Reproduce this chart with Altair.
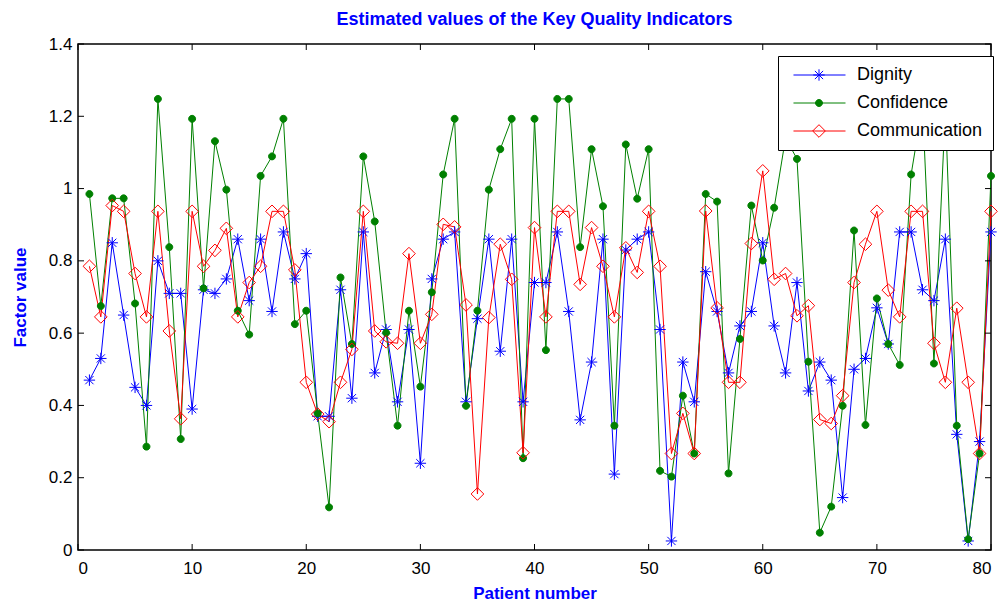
import altair as alt
import pandas as pd

patients = list(range(1, 81))

dignity = [
    0.47, 0.53, 0.85, 0.65, 0.45, 0.40, 0.80, 0.71, 0.71, 0.39,
    0.72, 0.71, 0.75, 0.86, 0.69, 0.86, 0.66, 0.88, 0.75, 0.82,
    0.37, 0.37, 0.72, 0.42, 0.88, 0.49, 0.61, 0.41, 0.61, 0.24,
    0.75, 0.86, 0.88, 0.41, 0.64, 0.86, 0.55, 0.86, 0.41, 0.74,
    0.74, 0.88, 0.66, 0.36, 0.52, 0.86, 0.21, 0.83, 0.86, 0.88,
    0.61, 0.025, 0.52, 0.41, 0.77, 0.66, 0.49, 0.62, 0.66, 0.85,
    0.62, 0.49, 0.74, 0.44, 0.52, 0.47, 0.145, 0.50, 0.53, 0.67,
    0.57, 0.88, 0.88, 0.72, 0.69, 0.86, 0.32, 0.025, 0.30, 0.88,
]

confidence = [
    0.985, 0.675, 0.973, 0.973, 0.682, 0.286, 1.248, 0.838, 0.307, 1.193,
    0.724, 1.131, 0.997, 0.662, 0.596, 1.035, 1.089, 1.193, 0.625, 0.662,
    0.378, 0.118, 0.754, 0.570, 1.089, 0.909, 0.601, 0.344, 0.662, 0.452,
    0.713, 1.039, 1.193, 0.399, 0.662, 0.997, 1.109, 1.193, 0.254, 1.193,
    0.553, 1.248, 1.248, 0.838, 1.109, 0.951, 0.344, 1.122, 0.972, 1.109,
    0.219, 0.203, 0.427, 0.267, 0.985, 0.964, 0.212, 0.584, 0.953, 0.801,
    0.947, 1.14, 1.082, 0.521, 0.048, 0.120, 0.399, 0.884, 0.346, 0.696,
    0.570, 0.512, 1.039, 1.23, 0.516, 1.22, 0.344, 0.030, 0.267, 1.035,
]

communication = [
    0.785, 0.645, 0.953, 0.937, 0.765, 0.645, 0.937, 0.606, 0.363, 0.937,
    0.785, 0.829, 0.890, 0.645, 0.740, 0.785, 0.937, 0.937, 0.775, 0.464,
    0.376, 0.355, 0.464, 0.555, 0.937, 0.606, 0.576, 0.572, 0.820, 0.572,
    0.652, 0.901, 0.894, 0.678, 0.155, 0.643, 0.846, 0.749, 0.269, 0.892,
    0.645, 0.937, 0.937, 0.735, 0.892, 0.785, 0.645, 0.836, 0.768, 0.937,
    0.785, 0.267, 0.378, 0.267, 0.938, 0.670, 0.464, 0.464, 0.848, 1.049,
    0.749, 0.765, 0.648, 0.676, 0.361, 0.350, 0.427, 0.740, 0.846, 0.937,
    0.719, 0.645, 0.937, 0.937, 0.572, 0.464, 0.669, 0.464, 0.267, 0.937,
]

series_names = ["Dignity", "Confidence", "Communication"]
marker_names = [n + " marker" for n in series_names]
series_colors = ["#0000ff", "#008000", "#ff0000"]
series_fills = ["transparent", "#008000", "transparent"]
# marker glyphs (unit square paths, drawn with one common symbol size)
STAR = "M-0.9,0L0.9,0M0,-0.9L0,0.9M-0.65,-0.65L0.65,0.65M-0.65,0.65L0.65,-0.65"
DOT = "M-0.55,0A0.55,0.55 0 1,0 0.55,0A0.55,0.55 0 1,0 -0.55,0Z"
DIAMOND = "M0,-1L1,0L0,1L-1,0Z"
series_shapes = [STAR, DOT, DIAMOND]
LEGEND_LINE = "M-0.64,0L8.82,0"

x_ticks = [0, 10, 20, 30, 40, 50, 60, 70, 80]
y_ticks = [0, 0.2, 0.4, 0.6, 0.8, 1, 1.2, 1.4]

rows = []
for name, mname, vals in zip(series_names, marker_names,
                             [dignity, confidence, communication]):
    for p, v in zip(patients, vals):
        rows.append({"patient": p, "value": v, "series": name, "marker": mname})
df = pd.DataFrame(rows)

W, H = 913, 506
FONT = "Liberation Sans"

xscale = alt.Scale(domain=[0, 80], nice=False)
yscale = alt.Scale(domain=[0, 1.4], nice=False)

x_axis = alt.Axis(values=x_ticks, title="Patient number", tickSize=0,
                  labelPadding=10, domain=False, grid=False, titlePadding=9)
y_axis = alt.Axis(values=y_ticks, format="~g", title="Factor value",
                  tickSize=0, labelPadding=6, domain=False, grid=False,
                  titlePadding=19)

xenc = alt.X("patient:Q", scale=xscale, axis=x_axis)
yenc = alt.Y("value:Q", scale=yscale, axis=y_axis)

leg_common = dict(orient="none", title=None, labelFontSize=18, labelFont=FONT,
                  rowPadding=10, legendY=12, padding=10)

lines = alt.Chart(df).mark_line(strokeWidth=1).encode(
    x=xenc, y=yenc,
    color=alt.Color("series:N",
                    scale=alt.Scale(domain=series_names, range=series_colors),
                    legend=alt.Legend(symbolType=LEGEND_LINE, symbolSize=121,
                                      symbolStrokeWidth=1, labelOffset=51,
                                      strokeColor="black", fillColor="white",
                                      legendX=700, labelColor="black",
                                      **leg_common)),
)

# marker-only legend laid over the line legend (no texts of its own)
pleg = alt.Legend(legendX=722, labelExpr="''", labelOffset=0,
                  symbolStrokeWidth=1, symbolSize=160, **leg_common)

points = alt.Chart(df).mark_point(strokeWidth=1, opacity=1, filled=False,
                                  size=160).encode(
    x=xenc, y=yenc,
    stroke=alt.Stroke("marker:N",
                      scale=alt.Scale(domain=marker_names, range=series_colors),
                      legend=pleg),
    fill=alt.Fill("marker:N",
                  scale=alt.Scale(domain=marker_names, range=series_fills),
                  legend=pleg),
    shape=alt.Shape("marker:N",
                    scale=alt.Scale(domain=marker_names, range=series_shapes),
                    legend=pleg),
)

xt = pd.DataFrame({"t": x_ticks})
yt = pd.DataFrame({"t": y_ticks})
tick_x_bottom = alt.Chart(xt).mark_rule(color="black", strokeWidth=1).encode(
    x=alt.X("t:Q", scale=xscale, axis=x_axis), y=alt.value(H), y2=alt.value(H - 6))
tick_x_top = alt.Chart(xt).mark_rule(color="black", strokeWidth=1).encode(
    x=alt.X("t:Q", scale=xscale, axis=x_axis), y=alt.value(0), y2=alt.value(6))
tick_y_left = alt.Chart(yt).mark_rule(color="black", strokeWidth=1).encode(
    y=alt.Y("t:Q", scale=yscale, axis=y_axis), x=alt.value(0), x2=alt.value(6))
tick_y_right = alt.Chart(yt).mark_rule(color="black", strokeWidth=1).encode(
    y=alt.Y("t:Q", scale=yscale, axis=y_axis), x=alt.value(W), x2=alt.value(W - 6))

chart = alt.layer(
    lines, points, tick_x_bottom, tick_x_top, tick_y_left, tick_y_right
).properties(
    width=W, height=H,
    background="white",
    title=alt.TitleParams("Estimated values of the Key Quality Indicators",
                          font=FONT, fontSize=18, fontWeight="bold",
                          color="#0000ff", anchor="middle", offset=6),
    autosize=alt.AutoSizeParams(type="none"),
    padding={"left": 78, "top": 44, "right": 14, "bottom": 53},
).configure_view(
    stroke="#000000", strokeWidth=1.5, strokeOpacity=1
).configure_axis(
    labelFont=FONT, labelFontSize=17, labelColor="black",
    titleFont=FONT, titleFontSize=17, titleFontWeight="bold",
    titleColor="#0000ff"
)

chart.save("out.html", embed_options={"renderer": "svg", "actions": False})
